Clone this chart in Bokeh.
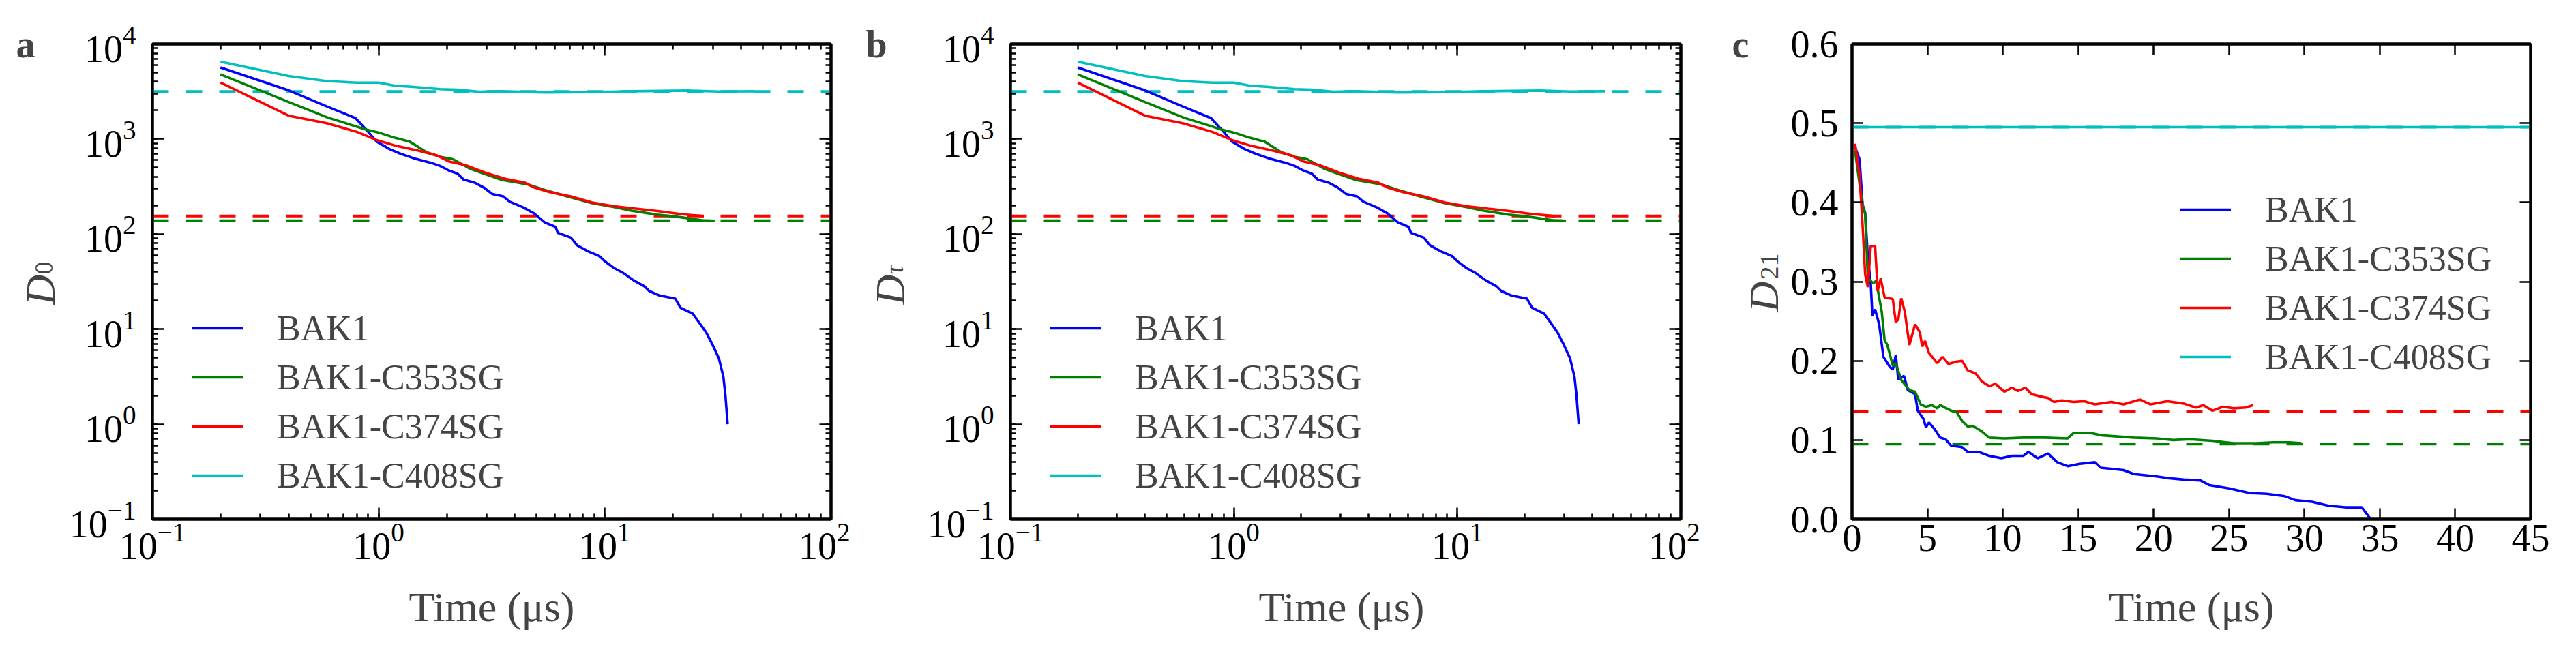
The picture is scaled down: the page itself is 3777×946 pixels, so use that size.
import math
from bokeh.plotting import figure
from bokeh.layouts import row
from bokeh.models import (Range1d, LogAxis, LinearAxis, LogTicker, FixedTicker,
                          NumeralTickFormatter, Label, Legend, LegendItem)
from bokeh.embed import file_html
from bokeh.resources import INLINE

# ---------------- data: panels a (D0) and b (Dtau) ----------------
t_bak1 = [0.2, 0.4, 0.59, 0.79, 0.88, 0.98, 1.12, 1.25, 1.43, 1.71, 1.87, 2.04, 2.23, 2.38,
          2.66, 2.91, 3.18, 3.56, 3.8, 4.34, 4.85, 5.42, 6.05, 6.2, 7.07, 7.55, 8.44, 9.44,
          10.1, 11.0, 12.0, 13.4, 15.0, 15.7, 17.5, 20.5, 21.6, 24.5, 26.2, 28.0, 29.9,
          31.9, 33.4, 34.1, 34.9]
d0_bak1 = [5660, 3250, 2200, 1660, 1260, 940, 781, 700, 627, 561, 521, 467, 433, 373,
           347, 310, 264, 249, 219, 192, 166, 133, 119, 103, 92, 76, 65.8, 58.9,
           50.8, 43.8, 39.3, 32.6, 28.1, 25.2, 22.5, 20.9, 16.8, 14.5, 11.6, 9.3, 6.9,
           4.96, 3.18, 2.04, 1.0]

t_c353 = [0.2, 0.4, 0.6, 0.88, 1.0, 1.18, 1.37, 1.63, 1.87, 2.13, 2.55, 2.91, 3.48, 4.54,
          5.42, 6.8, 8.8, 11.0, 13.1, 17.1, 21.4, 26.8, 30.6]
d0_c353 = [4780, 2450, 1670, 1260, 1170, 1030, 940, 726, 650, 613, 484, 433, 373, 334,
           292, 249, 211, 192, 176, 160, 151, 140, 138]

t_c374 = [0.2, 0.4, 0.59, 0.8, 0.98, 1.18, 1.5, 1.8, 2.04, 2.44, 3.04, 3.63, 4.44, 4.85,
          5.67, 7.07, 8.8, 11.0, 13.7, 17.1, 21.4, 26.2, 27.4]
d0_c374 = [3920, 1760, 1465, 1190, 975, 855, 753, 675, 582, 528, 433, 382, 347, 310,
           278, 249, 215, 196, 185, 175, 163, 156, 154]

t_c408 = [0.2, 0.4, 0.59, 0.8, 1.0, 1.18, 1.43, 1.87, 2.23, 2.78, 3.48, 5.42, 8.4, 13.2,
          23.4, 31.9, 45.7]
d0_c408 = [6520, 4600, 4060, 3920, 3920, 3640, 3530, 3350, 3300, 3140, 3180, 3090, 3110,
           3180, 3230, 3160, 3180]

# reference (dashed) levels for D0 / Dtau
ref_d0_c353 = 138
ref_d0_c374 = 155
ref_d0_c408 = 3150

# ---------------- data: panel c (D21) ----------------
t21_bak1 = [0.2, 0.5, 0.7, 0.87, 1.05, 1.24, 1.35, 1.53, 1.8, 2.08, 2.52, 2.7, 2.9, 3.07,
            3.44, 3.7, 4.18, 4.36, 4.73, 4.9, 5.1, 5.47, 5.84, 6.2, 6.57, 7.3, 7.67, 8.4,
            9.1, 9.9, 10.6, 11.35, 11.7, 12.3, 13.0, 13.6, 14.3, 15.1, 16.1, 16.5, 18.0,
            18.7, 20.2, 20.9, 22.0, 23.1, 23.7, 25.0, 26.4, 27.5, 28.7, 29.4, 30.5, 31.6,
            32.7, 33.8, 34.4]
d21_bak1 = [0.47, 0.454, 0.397, 0.387, 0.33, 0.298, 0.257, 0.265, 0.246, 0.205, 0.192,
            0.189, 0.207, 0.176, 0.181, 0.163, 0.158, 0.137, 0.127, 0.116, 0.122, 0.114,
            0.103, 0.101, 0.093, 0.091, 0.085, 0.085, 0.08, 0.077, 0.08, 0.08, 0.085, 0.077,
            0.083, 0.072, 0.067, 0.07, 0.072, 0.065, 0.062, 0.057, 0.054, 0.052, 0.05,
            0.049, 0.043, 0.039, 0.033, 0.032, 0.029, 0.024, 0.022, 0.017, 0.015, 0.015, 0.0]

t21_c353 = [0.2, 0.5, 0.7, 0.87, 1.05, 1.4, 1.6, 1.97, 2.16, 2.34, 2.7, 2.9, 3.26, 3.8,
            4.18, 4.55, 4.9, 5.3, 5.65, 5.84, 6.57, 6.95, 7.3, 7.67, 8.0, 8.6, 9.1, 10.1,
            11.35, 12.8, 14.3, 14.7, 15.8, 16.5, 18.7, 20.2, 21.3, 22.4, 23.9, 25.3, 26.8,
            27.9, 29.0, 29.8]
d21_c353 = [0.465, 0.423, 0.397, 0.385, 0.304, 0.298, 0.301, 0.262, 0.226, 0.22, 0.194,
            0.197, 0.176, 0.163, 0.161, 0.145, 0.142, 0.144, 0.14, 0.144, 0.137, 0.135,
            0.124, 0.117, 0.118, 0.111, 0.103, 0.102, 0.103, 0.103, 0.102, 0.109, 0.109,
            0.106, 0.103, 0.102, 0.1, 0.101, 0.099, 0.096, 0.096, 0.097, 0.097, 0.096]

t21_c374 = [0.2, 0.5, 0.7, 0.87, 1.05, 1.24, 1.53, 1.7, 1.9, 2.16, 2.7, 2.9, 3.07, 3.26,
            3.5, 3.8, 4.18, 4.5, 4.65, 4.84, 5.1, 5.65, 6.0, 6.4, 6.95, 7.3, 7.67, 8.2,
            8.6, 9.1, 9.5, 10.1, 10.6, 11.0, 11.5, 11.9, 12.5, 13.0, 13.4, 13.9, 14.7,
            15.4, 16.1, 17.2, 18.0, 19.1, 19.8, 20.9, 22.0, 22.8, 23.3, 23.9, 24.6, 25.3,
            26.1, 26.6]
d21_c374 = [0.474, 0.433, 0.371, 0.309, 0.293, 0.345, 0.345, 0.288, 0.304, 0.28, 0.278,
            0.249, 0.252, 0.279, 0.262, 0.22, 0.246, 0.236, 0.218, 0.225, 0.21, 0.197,
            0.205, 0.196, 0.199, 0.2, 0.188, 0.184, 0.174, 0.168, 0.171, 0.161, 0.166,
            0.162, 0.166, 0.158, 0.155, 0.153, 0.148, 0.15, 0.148, 0.149, 0.145, 0.148,
            0.145, 0.151, 0.145, 0.149, 0.146, 0.141, 0.144, 0.137, 0.142, 0.14, 0.141,
            0.144]

t21_c408 = [0.2, 5.0, 10.0, 20.0, 30.0, 45.7]
d21_c408 = [0.495, 0.495, 0.495, 0.495, 0.495, 0.495]

ref_d21_c353 = 0.095
ref_d21_c374 = 0.136
ref_d21_c408 = 0.495

x_ticks_c = [0, 5, 10, 15, 20, 25, 30, 35, 40, 45]
y_ticks_c = [0.0, 0.1, 0.2, 0.3, 0.4, 0.5, 0.6]

series_names = ["BAK1", "BAK1-C353SG", "BAK1-C374SG", "BAK1-C408SG"]
series_colors = ["#0000ff", "#008000", "#ff0000", "#00bfbf"]
panel_letters = ["a", "b", "c"]
ylabel_subs = ["0", "τ", "21"]
x_label = "Time (μs)"

FONT = "Liberation Serif"
FIG_W, FIG_H = 1246, 930
BL, BT = 223, 64
FRAME_W, FRAME_H = 995, 697
LW = 3.6


def style_axis(ax, show_labels, tick_in, minor_in, standoff=0):
    ax.axis_line_width = 4
    ax.axis_line_color = "black"
    ax.major_tick_in = tick_in
    ax.major_tick_out = 0
    ax.minor_tick_in = minor_in
    ax.minor_tick_out = 0
    ax.major_tick_line_width = 2.5
    ax.minor_tick_line_width = 2.5
    ax.major_label_text_font = FONT
    ax.major_label_text_color = "black"
    if show_labels:
        ax.major_label_text_font_size = "56px"
        ax.major_label_standoff = standoff
    else:
        ax.major_label_text_font_size = "2px"
        ax.major_label_text_alpha = 0
        ax.major_label_standoff = 0


def add_text(p, side, x, y, **kw):
    # x, y relative to the frame's bottom-left corner (pixels, y upward);
    # placed in a side panel so that it is not clipped to the frame
    lab = Label(x=BL + x, y=BT + FRAME_H - y, x_units="canvas", y_units="canvas", **kw)
    p.add_layout(lab, side)


def make_panel(idx, log, xr, yr, xdata, ydata, refs, legend_loc):
    kw = dict(width=FIG_W, height=FIG_H, output_backend="svg", toolbar_location=None,
              x_range=Range1d(*xr), y_range=Range1d(*yr),
              min_border_left=BL, min_border_right=FIG_W - BL - FRAME_W,
              min_border_top=BT, min_border_bottom=FIG_H - BT - FRAME_H)
    if log:
        kw.update(x_axis_type="log", y_axis_type="log")
    p = figure(**kw)
    p.grid.visible = False
    p.outline_line_color = "black"
    p.outline_line_width = 4
    p.background_fill_color = "white"
    p.border_fill_color = "white"
    bottom = p.below[0]
    left = p.left[0]

    if log:
        bottom.ticker = LogTicker(mantissas=[1], num_minor_ticks=10)
        left.ticker = LogTicker(mantissas=[1], num_minor_ticks=10)
        top = LogAxis(ticker=LogTicker(mantissas=[1], num_minor_ticks=10))
        right = LogAxis(ticker=LogTicker(mantissas=[1], num_minor_ticks=10))
        tin, min_in = 17, 8
        sb, sl = 6, 24
    else:
        bottom.ticker = FixedTicker(ticks=x_ticks_c, minor_ticks=[])
        left.ticker = FixedTicker(ticks=y_ticks_c, minor_ticks=[])
        left.formatter = NumeralTickFormatter(format="0.0")
        top = LinearAxis(ticker=FixedTicker(ticks=x_ticks_c, minor_ticks=[]))
        right = LinearAxis(ticker=FixedTicker(ticks=y_ticks_c, minor_ticks=[]))
        tin, min_in = 16, 0
        sb, sl = 8, 20
    p.add_layout(top, "above")
    p.add_layout(right, "right")
    style_axis(bottom, True, tin, min_in, sb)
    style_axis(left, True, tin, min_in, sl)
    style_axis(top, False, tin, min_in)
    style_axis(right, False, tin, min_in)

    # dashed reference levels
    for val, col in zip(refs, series_colors[1:]):
        p.line(x=[xr[0], xr[1]], y=[val, val], line_color=col, line_width=LW + 0.6,
               line_dash="24 25")

    items = []
    for xs, ys, name, col in zip(xdata, ydata, series_names, series_colors):
        r = p.line(x=xs, y=ys, line_color=col, line_width=LW)
        items.append(LegendItem(label=name, renderers=[r]))

    leg = Legend(items=items, location=legend_loc, glyph_width=75, glyph_height=60,
                 label_height=60, label_standoff=50, spacing=12, padding=0, margin=0,
                 label_text_font=FONT, label_text_font_size="52px",
                 border_line_alpha=0, background_fill_alpha=0)
    p.add_layout(leg, "center")

    # x-axis title
    add_text(p, "below", FRAME_W / 2, -128, text=x_label, text_font=FONT,
             text_font_size="62px", text_baseline="alphabetic", text_align="center")
    # panel letter
    letter_x = -176 if idx == 2 else -200
    add_text(p, "above", letter_x, FRAME_H, text=panel_letters[idx], text_font=FONT,
             text_font_style="bold", text_font_size="56px", text_baseline="alphabetic",
             text_align="left")
    # y-axis title: italic D with its subscript, rotated
    if idx == 2:
        dx, dy, sx, sy = -130, 304, -121, 352
    else:
        dx, dy, sx, sy = -165, 314, -159, 359
    add_text(p, "left", dx, dy, text="D", text_font=FONT, text_font_style="italic",
             text_font_size="62px", angle=math.pi / 2, text_align="left",
             text_baseline="alphabetic")
    add_text(p, "left", sx, sy, text=ylabel_subs[idx], text_font=FONT,
             text_font_style="italic" if idx == 1 else "normal",
             text_font_size="38px", angle=math.pi / 2, text_align="left",
             text_baseline="alphabetic")
    return p


pa = make_panel(0, True, (0.1, 100), (0.1, 1e4),
                [t_bak1, t_c353, t_c374, t_c408], [d0_bak1, d0_c353, d0_c374, d0_c408],
                [ref_d0_c353, ref_d0_c374, ref_d0_c408], (58, 34))
pb = make_panel(1, True, (0.1, 100), (0.1, 1e4),
                [t_bak1, t_c353, t_c374, t_c408], [d0_bak1, d0_c353, d0_c374, d0_c408],
                [ref_d0_c353, ref_d0_c374, ref_d0_c408], (58, 34))
pc = make_panel(2, False, (0, 45), (0, 0.6),
                [t21_bak1, t21_c353, t21_c374, t21_c408],
                [d21_bak1, d21_c353, d21_c374, d21_c408],
                [ref_d21_c353, ref_d21_c374, ref_d21_c408], (481, 208))

layout = row(pa, pb, pc)
open("out.html", "w").write(file_html(layout, INLINE))
